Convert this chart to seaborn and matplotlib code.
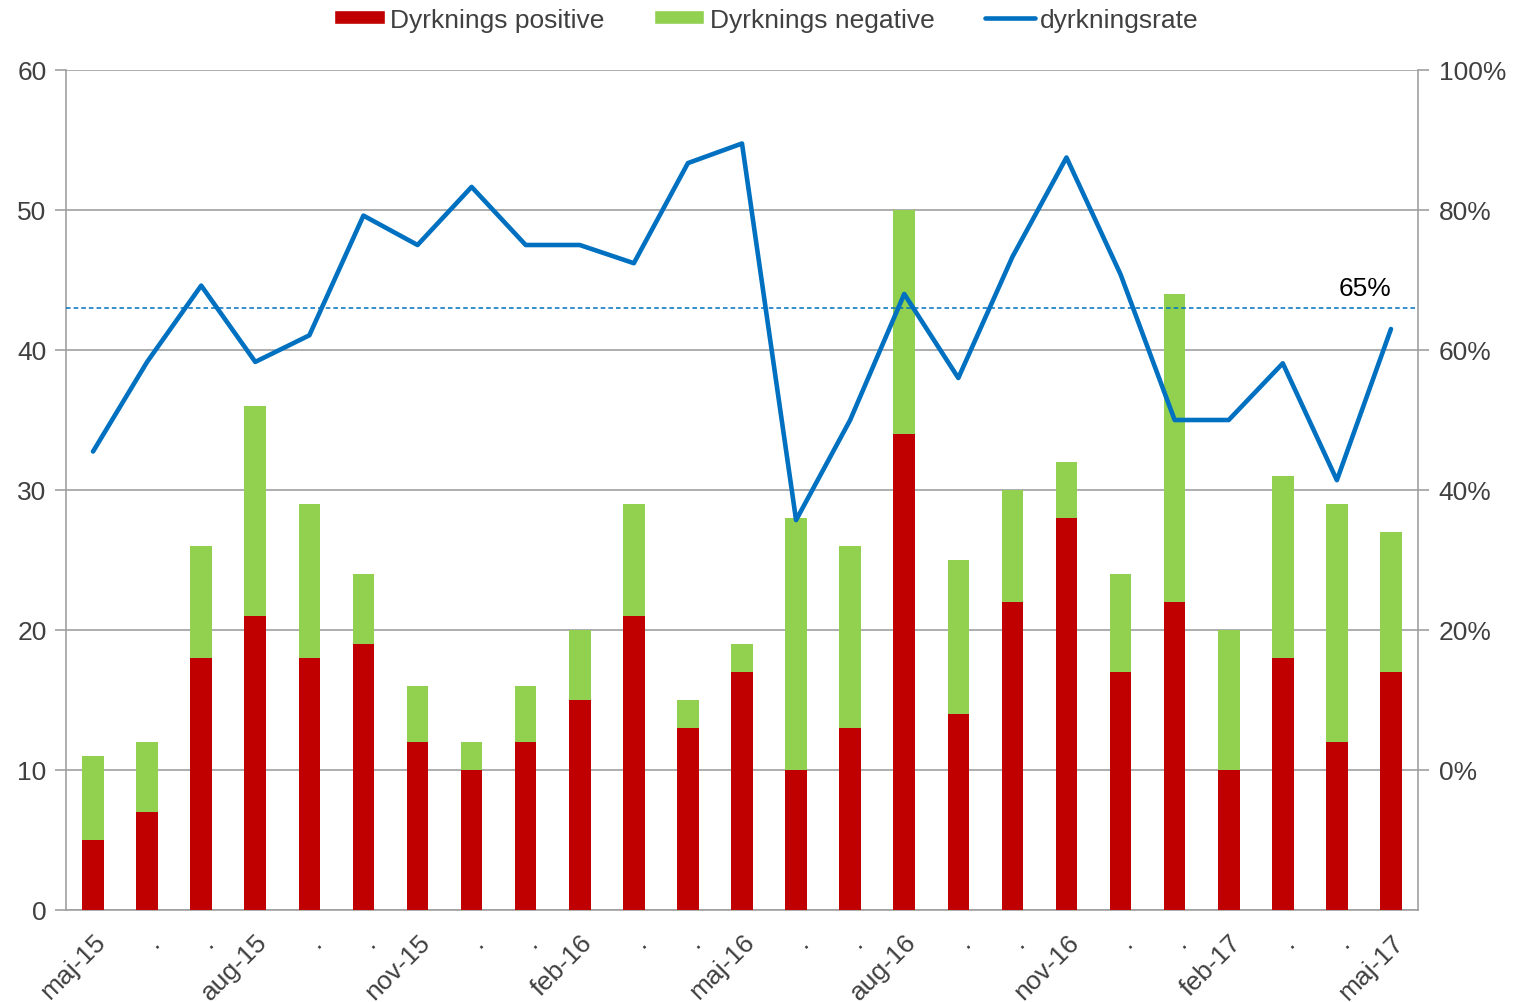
import numpy as np
import pandas as pd
import seaborn as sns
import matplotlib.pyplot as plt
from matplotlib.patches import Patch
from matplotlib.lines import Line2D
from matplotlib.ticker import FixedLocator, PercentFormatter

# Data
months = ['maj-15', '.', '.', 'aug-15', '.', '.', 'nov-15', '.', '.', 'feb-16', '.', '.',
          'maj-16', '.', '.', 'aug-16', '.', '.', 'nov-16', '.', '.', 'feb-17', '.', '.', 'maj-17']
positive = [5, 7, 18, 21, 18, 19, 12, 10, 12, 15, 21, 13, 17, 10, 13, 34, 14, 22, 28, 17, 22, 10, 18, 12, 17]
total = [11, 12, 26, 36, 29, 24, 16, 12, 16, 20, 29, 15, 19, 28, 26, 50, 25, 30, 32, 24, 44, 20, 31, 29, 27]
rate = [0.455, 0.583, 0.692, 0.583, 0.621, 0.792, 0.750, 0.833, 0.750, 0.750, 0.724, 0.867, 0.895,
        0.357, 0.500, 0.680, 0.560, 0.733, 0.875, 0.708, 0.500, 0.500, 0.581, 0.414, 0.630]
target_level = 0.66
target_label = '65%'

RED = '#C00000'
GREEN = '#92D050'
BLUE = '#0070C0'
GRID = '#A0A0A0'
TXT = '#404040'
FS = 19

df = pd.DataFrame({'month': range(len(months)), 'positive': positive, 'total': total, 'rate': rate})

sns.set_style('white')
plt.rcParams['font.family'] = ['Liberation Sans', 'DejaVu Sans']

fig = plt.figure(figsize=(15.27, 10.03), dpi=100)
ax = fig.add_axes([66 / 1527, 92 / 1003, (1418 - 66) / 1527, (911 - 71) / 1003])

# stacked bars: totals (green) underneath, positives (red) on top
sns.barplot(data=df, x='month', y='total', color=GREEN, saturation=1, width=0.4, linewidth=0, ax=ax, zorder=2)
sns.barplot(data=df, x='month', y='positive', color=RED, saturation=1, width=0.4, linewidth=0, ax=ax, zorder=3)

ax.set_xlim(-0.5, len(months) - 0.5)
ax.set_ylim(0, 60)
ax.set_yticks(range(0, 61, 10))
ax.yaxis.grid(True, color=GRID, linewidth=1.2, zorder=0)
ax.set_axisbelow(True)
ax.set_xlabel('')
ax.set_ylabel('')

ax.set_xticks(range(len(months)))
ax.set_xticklabels(months, rotation=45, ha='right', rotation_mode='anchor')
ax.xaxis.set_minor_locator(FixedLocator(np.arange(-0.5, len(months), 1)))
ax.tick_params(axis='x', which='major', length=0, pad=14, labelsize=FS, labelcolor=TXT)
ax.tick_params(axis='x', which='minor', length=8, width=1.2, color=GRID, direction='out')
ax.tick_params(axis='y', length=8, width=1.2, color=GRID, labelsize=FS, labelcolor=TXT, left=True, pad=6)

for s in ['left', 'bottom']:
    ax.spines[s].set_color(GRID)
    ax.spines[s].set_linewidth(1.2)
ax.spines['top'].set_visible(False)
ax.spines['right'].set_visible(False)

# rate on the secondary axis
ax2 = ax.twinx()
sns.lineplot(data=df, x='month', y='rate', color=BLUE, linewidth=3.3, ax=ax2, zorder=4)
ax2.axhline(target_level, color=BLUE, linewidth=1.1, linestyle=(0, (3, 2)))
ax2.text(len(months) - 1, target_level + 0.012, target_label, ha='right', va='bottom', fontsize=FS, color='black')
ax2.set_ylim(-0.2, 1.0)
ax2.set_yticks(np.arange(0, 1.01, 0.2))
ax2.yaxis.set_major_formatter(PercentFormatter(1.0, decimals=0))
ax2.set_ylabel('')
ax2.tick_params(axis='y', length=8, width=1.2, color=GRID, labelsize=FS, labelcolor=TXT, right=True, pad=7)
ax2.spines['right'].set_color(GRID)
ax2.spines['right'].set_linewidth(1.2)
for s in ['left', 'top', 'bottom']:
    ax2.spines[s].set_visible(False)

handles = [Patch(facecolor=RED, label='Dyrknings positive'),
           Patch(facecolor=GREEN, label='Dyrknings negative'),
           Line2D([], [], color=BLUE, linewidth=3.3, label='dyrkningsrate')]
fig.legend(handles=handles, loc='upper center', bbox_to_anchor=(0.502, 1.015), ncol=3, frameon=False,
           fontsize=FS, handlelength=1.9, handleheight=0.45, handletextpad=0.2, columnspacing=1.9,
           labelcolor=TXT)

fig.savefig('out.png', dpi=100)
plt.close(fig)
